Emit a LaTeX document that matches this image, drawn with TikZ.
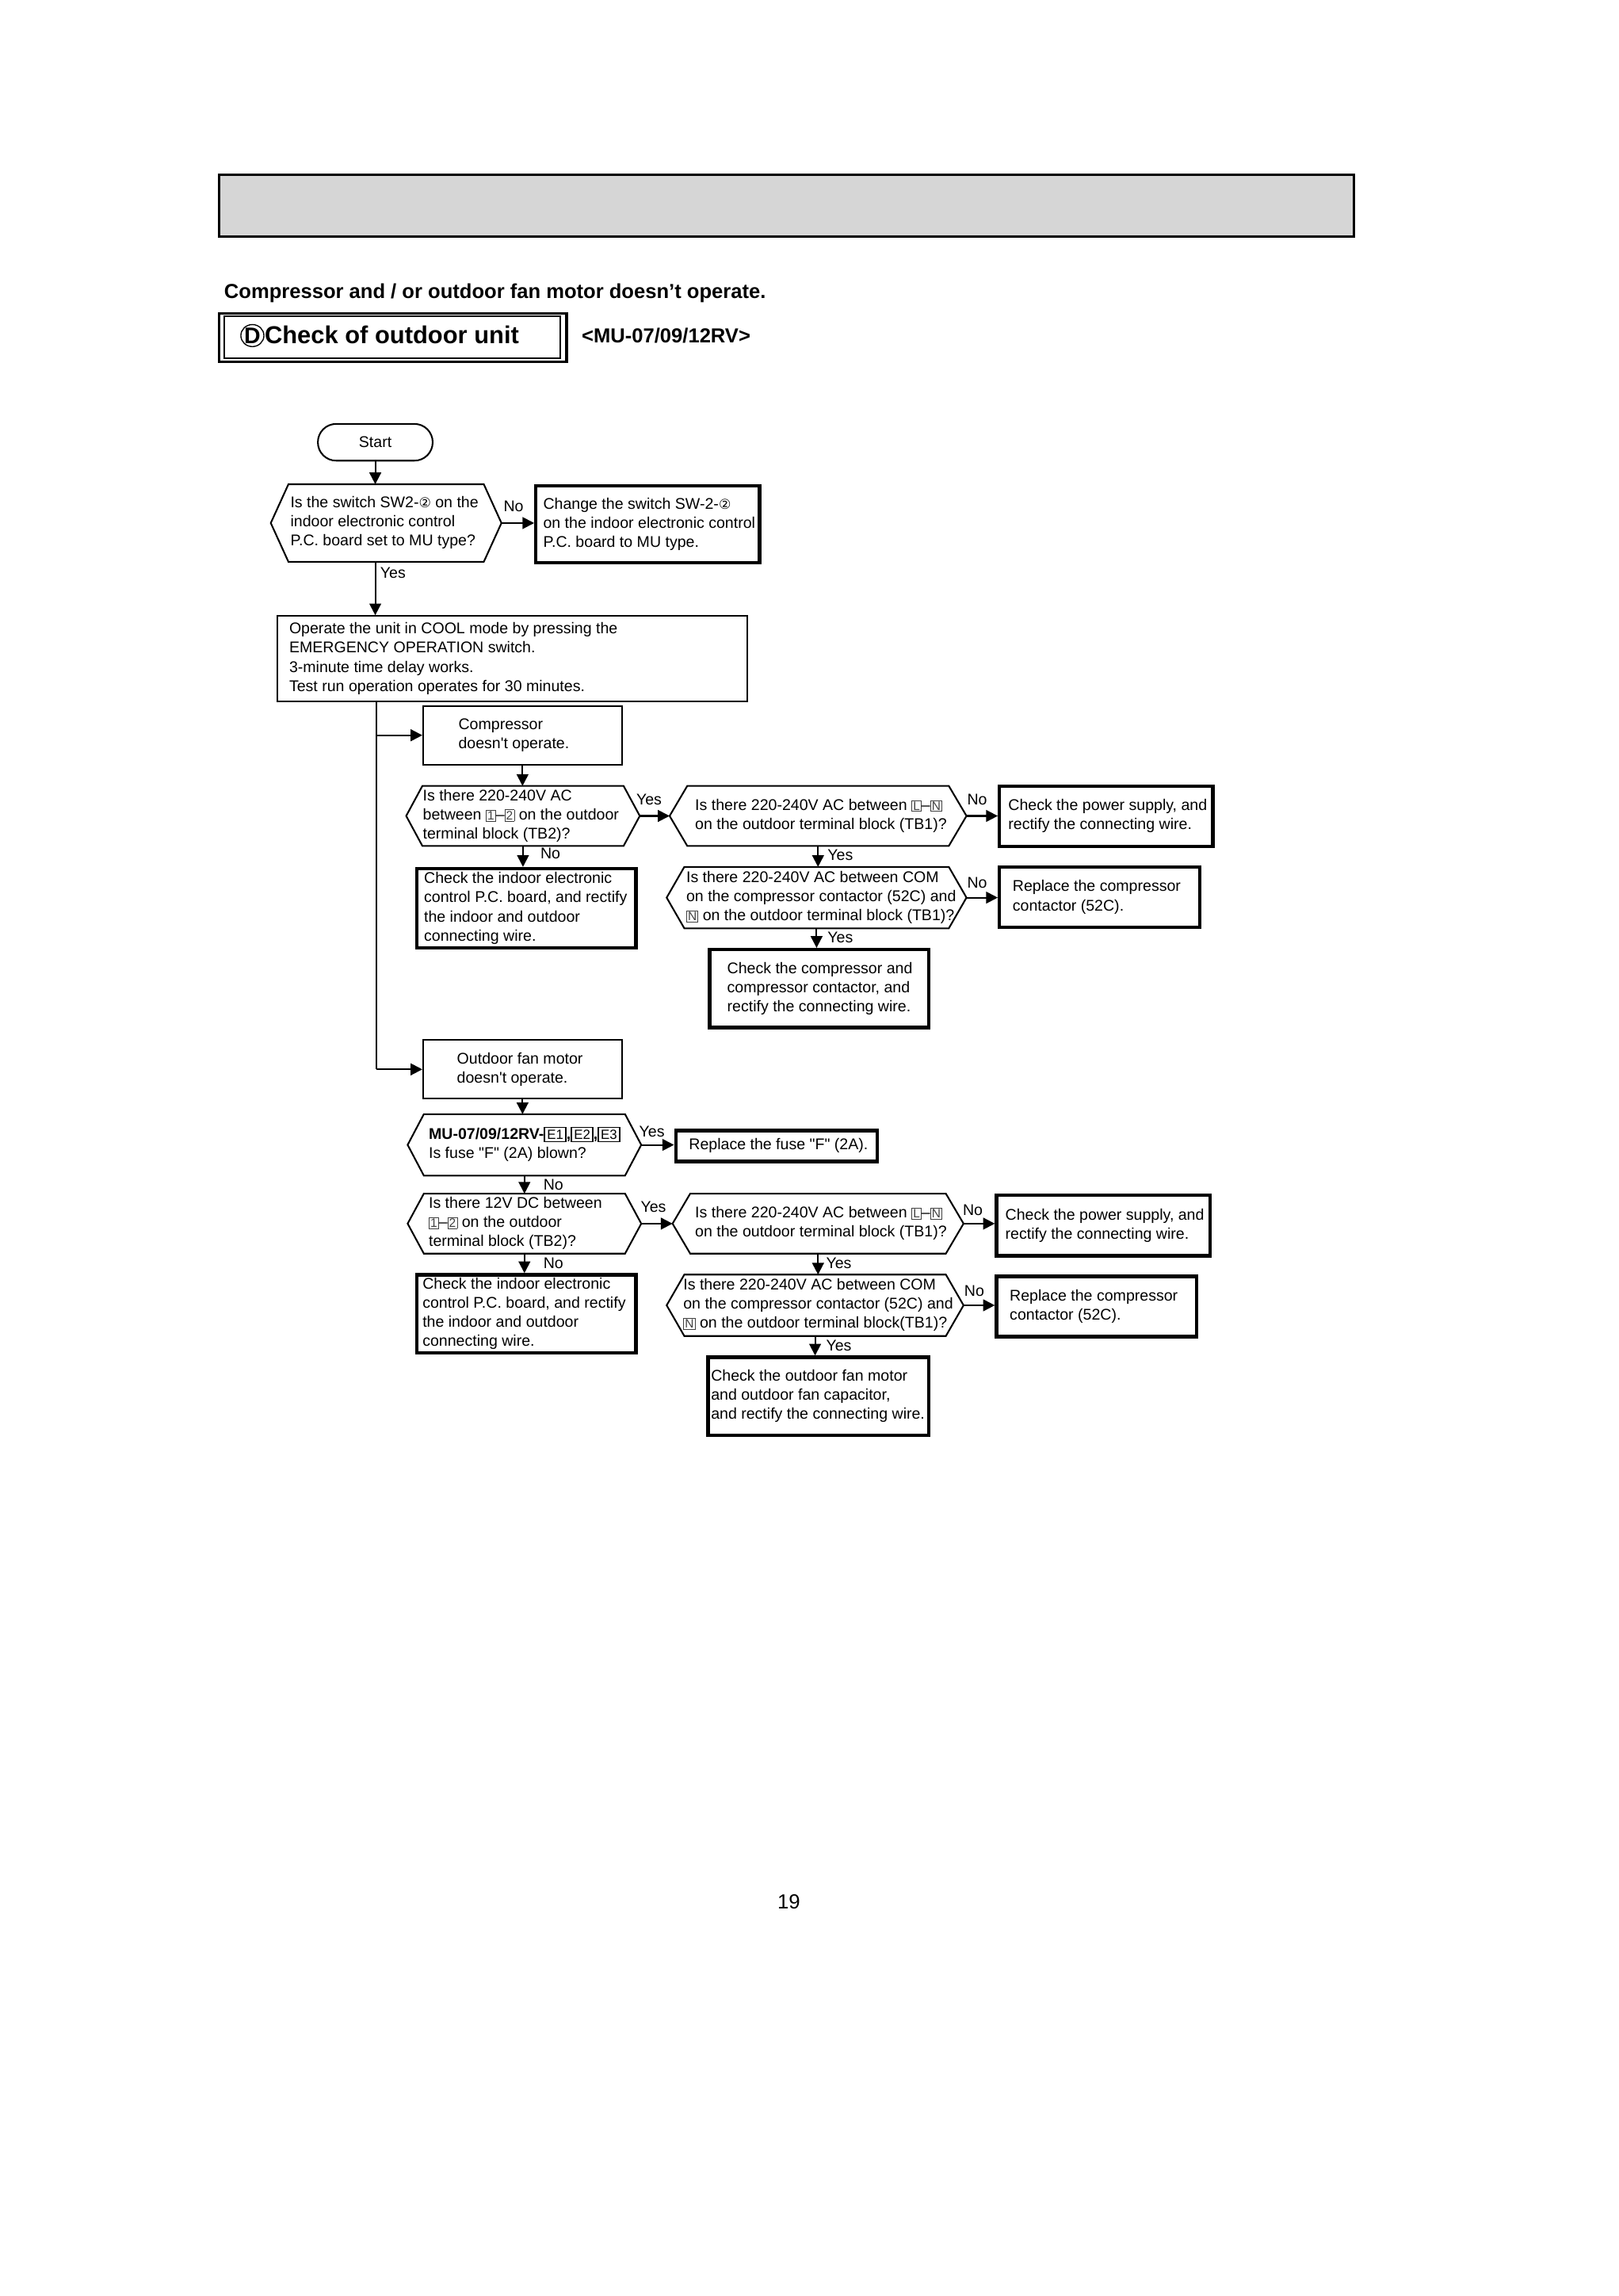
\documentclass[tikz,border=0pt]{standalone}
\usepackage{fontspec}
\setmainfont{Liberation Sans}[Ligatures=TeXOff]
\newfontfamily\djv{DejaVu Sans}
\usetikzlibrary{arrows.meta,calc,shapes.geometric}
\definecolor{hdr}{RGB}{214,214,214}
\newcommand\sqd[1]{{\color{black!75}\setlength\fboxsep{0.35pt}\setlength\fboxrule{0.25pt}\fbox{\fontsize{4.5}{4.5}\selectfont #1}}}
\newcommand\cir[1]{{\djv\fontsize{5}{5}\selectfont #1}}
\newcommand\ebx[1]{{\setlength\fboxsep{0.7pt}\setlength\fboxrule{0.45pt}\fbox{\mdseries\fontsize{4.9}{4.9}\selectfont #1}}}
% text box: name x y w h pad style text
\newcommand\TB[8]{%
  \pgfmathsetmacro\bW{#4*0.541}\pgfmathsetmacro\bH{#5*0.541}\pgfmathsetmacro\bP{#6*0.541}%
  \node[#7, anchor=north west, inner sep=0pt, minimum width=\bW pt, minimum height=\bH pt] (#1) at (#2,#3)
    {\makebox[\bW pt][l]{\hspace*{\bP pt}\begin{tabular}{@{}l@{}}#8\end{tabular}}};}
% hexagon: name x y w h cut pad text
\newcommand\HX[8]{%
  \pgfmathsetmacro\bW{#4*0.541}\pgfmathsetmacro\bH{#5*0.541}\pgfmathsetmacro\bP{#7*0.541}%
  \node[anchor=north west, inner sep=0pt, minimum width=\bW pt, minimum height=\bH pt] (#1) at (#2,#3)
    {\makebox[\bW pt][l]{\hspace*{\bP pt}\begin{tabular}{@{}l@{}}#8\end{tabular}}};
  \draw[thinln, line join=miter] (#1.west) -- ($(#1.north west)+(#6,0)$) -- ($(#1.north east)+(-#6,0)$) -- (#1.east)
    -- ($(#1.south east)+(-#6,0)$) -- ($(#1.south west)+(#6,0)$) -- cycle;}
\begin{document}
\begin{tikzpicture}[x=0.541pt,y=-0.541pt,
  font=\fontsize{5.7}{7.03}\selectfont,
  thinln/.style={line width=0.6pt},
  thickln/.style={line width=1.25pt},
  tbox/.style={draw, thinln},
  kbox/.style={draw, thickln},
  arr/.style={thinln, -{Triangle[length=4.3pt,width=4.3pt]}},
  lab/.style={inner sep=0pt}]
\useasboundingbox (0,0) rectangle (1100,1560);

% header
\node[draw, line width=0.9pt, fill=hdr, anchor=north west, inner sep=0pt,
      minimum width=417.1pt, minimum height=22.7pt] (hdr) at (148,118) {};
\node[anchor=base west, inner sep=0pt, font=\bfseries\fontsize{7.45}{9}\selectfont] (sub) at (152,203)
  {Compressor and / or outdoor fan motor doesn’t operate.};
\node[draw, line width=1pt, anchor=north west, inner sep=0pt, minimum width=127.7pt, minimum height=17.85pt] (dout) at (148,212) {};
\node[draw, line width=0.6pt, anchor=north west, inner sep=0pt, minimum width=123.3pt, minimum height=15.4pt] (din) at (152,214.5) {};
\node[ellipse, draw, line width=0.4pt, inner sep=0pt, minimum width=6.5pt, minimum height=8.1pt,
      font=\bfseries\fontsize{8.3}{9}\selectfont] (cD) at (171.5,228) {D};
\node[anchor=base west, inner sep=0pt, font=\bfseries\fontsize{9}{10}\selectfont] (ttl) at (179.5,233.5) {Check of outdoor unit};
\node[anchor=base west, inner sep=0pt, font=\bfseries\fontsize{7.45}{9}\selectfont] (model) at (395,233) {<MU-07/09/12RV>};

% flowchart
\node[draw, thinln, rounded corners=6.7pt, minimum width=42.2pt, minimum height=13.5pt, inner sep=0pt] (start) at (255,300.5) {Start};
\HX{d1}{184}{329}{156}{52}{12}{13}{Is the switch SW2-\cir{②} on the\\indoor electronic control\\P.C. board set to MU type?}
\TB{b1}{363}{329}{152}{52}{5}{kbox}{Change the switch SW-2-\cir{②}\\on the indoor electronic control\\P.C. board to MU type.}
\TB{big}{188}{418}{319}{58}{8}{tbox}{Operate the unit in COOL mode by pressing the\\EMERGENCY OPERATION switch.\\3-minute time delay works.\\Test run operation operates for 30 minutes.}
\TB{comp}{287}{479}{135}{40}{24}{tbox}{Compressor\\doesn't operate.}
\HX{d2}{276}{534}{158}{40}{11}{11}{Is there 220-240V AC\\between \sqd{1}–\sqd{2} on the outdoor\\terminal block (TB2)?}
\HX{d3}{455}{534}{201}{40}{12}{17}{Is there 220-240V AC between \sqd{L}–\sqd{N}\\on the outdoor terminal block (TB1)?}
\TB{ps1}{678}{533}{145}{41}{6}{kbox}{Check the power supply, and\\rectify the connecting wire.}
\TB{ci1}{282}{589}{149}{54}{5}{kbox}{Check the indoor electronic\\control P.C. board, and rectify\\the indoor and outdoor\\connecting wire.}
\HX{d4}{453}{589}{203}{41}{12}{13}{Is there 220-240V AC between COM\\on the compressor contactor (52C) and\\\sqd{N} on the outdoor terminal block (TB1)?}
\TB{rc1}{678}{588}{136}{41}{9}{kbox}{Replace the compressor\\contactor (52C).}
\TB{cc}{481}{644}{149}{53}{12}{kbox}{Check the compressor and\\compressor contactor, and\\rectify the connecting wire.}

\TB{fan}{287}{706}{135}{40}{23}{tbox}{Outdoor fan motor\\doesn't operate.}
\HX{d5}{277}{757}{158}{41}{11}{14}{{\bfseries MU-07/09/12RV-\ebx{E1},\ebx{E2},\ebx{E3}}\\Is fuse "F" (2A) blown?}
\TB{rf}{458}{767}{137}{21}{9}{kbox}{Replace the fuse "F" (2A).}
\HX{d6}{277}{811}{158}{40}{11}{14}{Is there 12V DC between\\\sqd{1}–\sqd{2} on the outdoor\\terminal block (TB2)?}
\HX{d7}{457}{811}{197}{40}{12}{15}{Is there 220-240V AC between \sqd{L}–\sqd{N}\\on the outdoor terminal block (TB1)?}
\TB{ps2}{676}{811}{145}{41}{6}{kbox}{Check the power supply, and\\rectify the connecting wire.}
\TB{ci2}{282}{865}{149}{53}{4}{kbox}{Check the indoor electronic\\control P.C. board, and rectify\\the indoor and outdoor\\connecting wire.}
\HX{d8}{453}{866}{201}{41}{12}{11}{Is there 220-240V AC between COM\\on the compressor contactor (52C) and\\\sqd{N} on the outdoor terminal block(TB1)?}
\TB{rc2}{676}{866}{136}{41}{9}{kbox}{Replace the compressor\\contactor (52C).}
\TB{cf}{480}{921}{150}{53}{2}{kbox}{Check the outdoor fan motor\\and outdoor fan capacitor,\\and rectify the connecting wire.}

\node[font=\fontsize{7.5}{9}\selectfont] (pg) at (536,1292) {19};

% connectors
\draw[arr] (start.south) -- (start.south |- d1.north);
\draw[arr] (d1.east) -- (d1.east -| b1.west);
\draw[arr] (start.south |- d1.south) -- (start.south |- big.north);
\coordinate (tk) at (256,0);
\draw[thinln] (tk |- big.south) -- (tk |- fan.west);
\draw[arr] (tk |- comp.west) -- (comp.west);
\draw[arr] (tk |- fan.west) -- (fan.west);
\draw[arr] (comp.south) -- (comp.south |- d2.north);
\draw[arr] (d2.east) -- (d2.east -| d3.west);
\draw[arr] (d3.east) -- (d3.east -| ps1.west);
\draw[arr] (d2.south) -- (d2.south |- ci1.north);
\draw[arr] (d3.south) -- (d3.south |- d4.north);
\draw[arr] (d4.east) -- (d4.east -| rc1.west);
\draw[arr] (d4.south) -- (d4.south |- cc.north);
\draw[arr] (fan.south) -- (fan.south |- d5.north);
\draw[arr] (d5.east) -- (d5.east -| rf.west);
\draw[arr] (d5.south) -- (d5.south |- d6.north);
\draw[arr] (d6.east) -- (d6.east -| d7.west);
\draw[arr] (d7.east) -- (d7.east -| ps2.west);
\draw[arr] (d6.south) -- (d6.south |- ci2.north);
\draw[arr] (d7.south) -- (d7.south |- d8.north);
\draw[arr] (d8.east) -- (d8.east -| rc2.west);
\draw[arr] (d8.south) -- (d8.south |- cf.north);

% labels
\node[lab] (l1) at (349,344) {No};
\node[lab] (l2) at (267,389) {Yes};
\node[lab] (l3) at (441,543) {Yes};
\node[lab] (l4) at (664,543) {No};
\node[lab] (l5) at (374,580) {No};
\node[lab] (l6) at (571,581) {Yes};
\node[lab] (l7) at (664,600) {No};
\node[lab] (l8) at (571,637) {Yes};
\node[lab] (l9) at (443,769) {Yes};
\node[lab] (l10) at (376,805) {No};
\node[lab] (l11) at (444,820) {Yes};
\node[lab] (l12) at (661,822) {No};
\node[lab] (l13) at (376,858) {No};
\node[lab] (l14) at (570,858) {Yes};
\node[lab] (l15) at (662,877) {No};
\node[lab] (l16) at (570,914) {Yes};
\end{tikzpicture}
\end{document}
